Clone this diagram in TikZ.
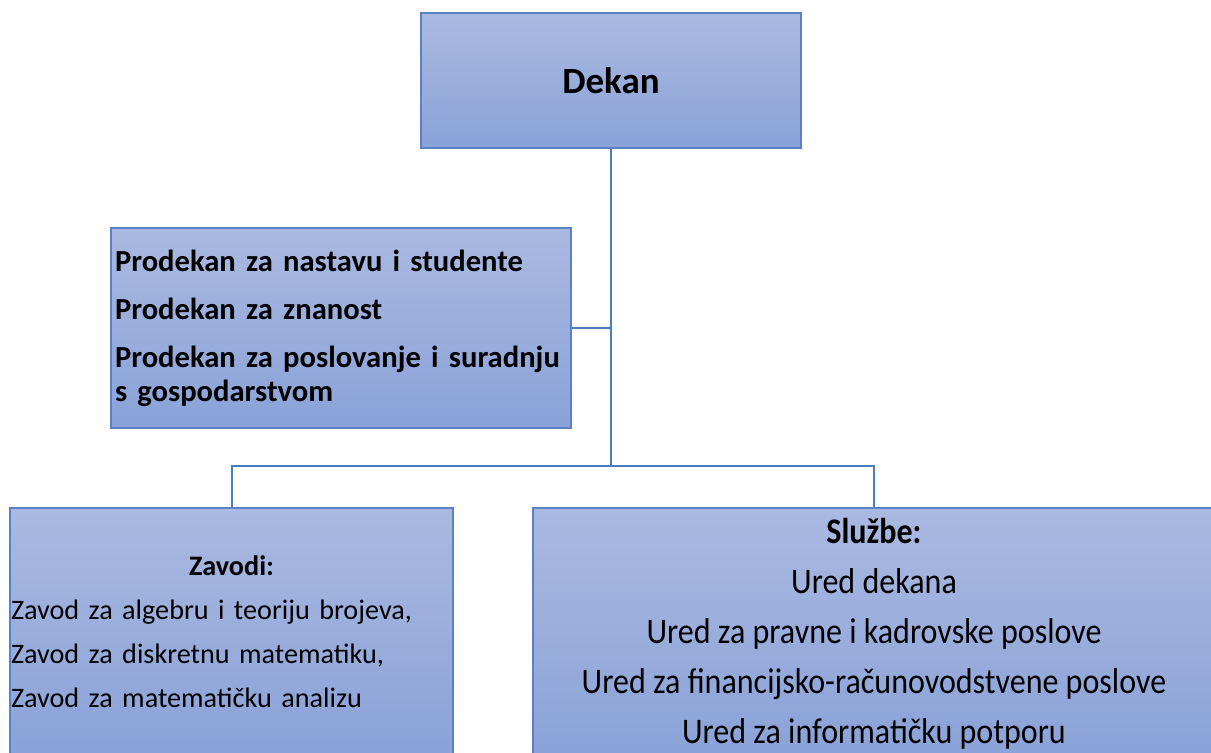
\documentclass[tikz,border=0pt]{standalone}
\usepackage{fontspec}
\setmainfont{Carlito}
\newfontfamily\uredfont[FakeStretch=0.89]{Carlito}
\usetikzlibrary{positioning}

\definecolor{boxtop}{HTML}{AAB9E1}
\definecolor{boxbot}{HTML}{8AA2D8}
\definecolor{boxline}{HTML}{5A80C6}
\definecolor{linkline}{HTML}{4A7EBB}

\tikzset{
  orgbox/.style={draw=boxline, line width=0.6pt, top color=boxtop,
    bottom color=boxbot, inner sep=2pt},
  link/.style={draw=linkline, line width=1pt},
}

\begin{document}
\begin{tikzpicture}[x=0.5pt, y=-0.5pt]
\useasboundingbox (0,0) rectangle (1211,753);

\node[orgbox, minimum width=190pt, minimum height=67.5pt,
  font=\fontsize{18.5}{22}\selectfont\bfseries] (dekan) at (611,80.5) {Dekan};

\node[orgbox, minimum width=230pt, minimum height=100pt, text width=226pt,
  align=left, font=\fontsize{15.3}{17}\selectfont\bfseries] (prodekan) at (341,328)
  {Prodekan za nastavu i studente\\[7pt]
   Prodekan za znanost\\[7pt]
   Prodekan za poslovanje i suradnju\\
   s gospodarstvom};

\node[orgbox, inner xsep=0.5pt, minimum width=221.5pt, minimum height=124pt,
  text width=220.5pt, align=left, font=\fontsize{14.1}{22}\selectfont] (zavodi) at (231.5,632)
  {\makebox[\linewidth]{\bfseries Zavodi:}\\
   Zavod za algebru i teoriju brojeva,\\
   Zavod za diskretnu matematiku,\\
   Zavod za matematičku analizu\\[10pt]};

\node[orgbox, minimum width=341pt, minimum height=126pt, align=center,
  font=\uredfont\fontsize{18}{25}\selectfont] (sluzbe) at (874,634)
  {{\bfseries Službe:}\\
   Ured dekana\\
   Ured za pravne i kadrovske poslove\\
   Ured za financijsko-računovodstvene poslove\\
   Ured za informatičku potporu};

\coordinate (hub) at (611,466);

\draw[link] (dekan) -- (hub);
\draw[link] (prodekan.east) -- (prodekan.east -| dekan);
\draw[link] (zavodi) |- (hub) -| (sluzbe);
\end{tikzpicture}
\end{document}
